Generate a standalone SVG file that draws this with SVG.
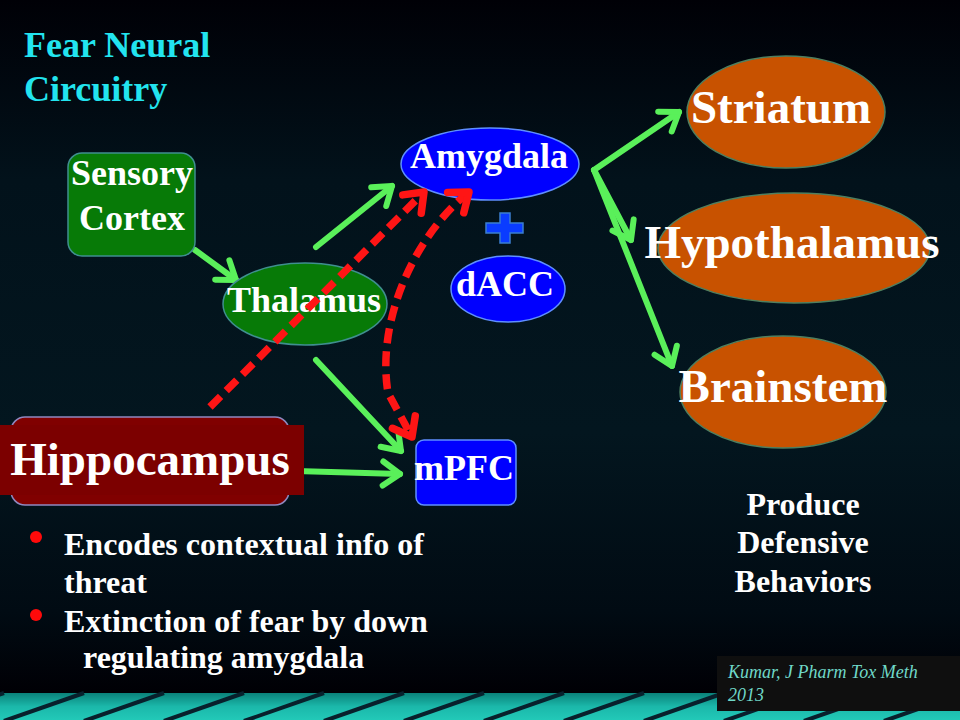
<svg xmlns="http://www.w3.org/2000/svg" width="960" height="720" viewBox="0 0 960 720">
<style>
.t{font-family:"Liberation Serif","Times New Roman",serif;font-weight:bold;fill:#ffffff}
.big{font-size:47px}
.mid{font-size:36px}
.sm{font-size:32px}
.green{fill:#077a07;stroke:#3f8f8f;stroke-width:1.5}
.blue{fill:#0000ff;stroke:#5f8fff;stroke-width:1.5}
.orange{fill:#c85200;stroke:#4f7f5f;stroke-width:1.5}
.g{fill:none;stroke:#5af05a;stroke-width:6;stroke-linecap:round;marker-end:url(#ag)}
.r{fill:none;stroke:#ff1515;stroke-width:7.5;stroke-dasharray:15 8;marker-end:url(#ar)}
</style>
<defs>
<linearGradient id="bg" x1="0" y1="0" x2="0" y2="1">
<stop offset="0" stop-color="#000006"/>
<stop offset="0.25" stop-color="#02121b"/>
<stop offset="0.6" stop-color="#03161f"/>
<stop offset="0.85" stop-color="#010b13"/>
<stop offset="0.96" stop-color="#000005"/>
</linearGradient>
<linearGradient id="band" x1="0" y1="0" x2="0" y2="1">
<stop offset="0" stop-color="#0a827a"/>
<stop offset="0.5" stop-color="#1bb8aa"/>
<stop offset="1" stop-color="#22c9b8"/>
</linearGradient>
<marker id="ag" markerUnits="userSpaceOnUse" markerWidth="44" markerHeight="44" viewBox="-22 -22 44 44" refX="0" refY="0" orient="auto">
<path d="M-17,-12 L0,0 L-17,12" fill="none" stroke="#5af05a" stroke-width="6" stroke-linecap="round" stroke-linejoin="round"/>
</marker>
<marker id="ar" markerUnits="userSpaceOnUse" markerWidth="48" markerHeight="48" viewBox="-24 -24 48 48" refX="0" refY="0" orient="auto-start-reverse">
<path d="M-17,-13 L0,0 L-17,13" fill="none" stroke="#ff1515" stroke-width="7.5" stroke-linecap="round" stroke-linejoin="round"/>
</marker>
</defs>

<rect x="0" y="0" width="960" height="720" fill="url(#bg)"/>
<g id="band-stripes">
<rect x="0" y="693" width="960" height="27" fill="url(#band)"/>
<g stroke="#08202c" stroke-width="4">
<line x1="-76" y1="721" x2="4" y2="693"/>
<line x1="4" y1="721" x2="84" y2="693"/>
<line x1="84" y1="721" x2="164" y2="693"/>
<line x1="164" y1="721" x2="244" y2="693"/>
<line x1="244" y1="721" x2="324" y2="693"/>
<line x1="324" y1="721" x2="404" y2="693"/>
<line x1="404" y1="721" x2="484" y2="693"/>
<line x1="484" y1="721" x2="564" y2="693"/>
<line x1="564" y1="721" x2="644" y2="693"/>
<line x1="644" y1="721" x2="724" y2="693"/>
<line x1="724" y1="721" x2="804" y2="693"/>
<line x1="804" y1="721" x2="884" y2="693"/>
<line x1="884" y1="721" x2="964" y2="693"/>
</g>
</g>

<g id="title">
<text class="t" x="24" y="57" font-size="36" style="fill:#22e4ef">Fear Neural</text>
<text class="t" x="24" y="101" font-size="36" style="fill:#22e4ef">Circuitry</text>
</g>

<g id="connectors">
<path class="g" d="M195,250 L236,280"/>
<path class="g" d="M316,247 L392,186"/>
<path class="g" d="M316,360 L401,451"/>
<path class="g" d="M296,471 L400,474"/>
<path class="g" d="M594,170 L679,112"/>
<path class="g" d="M594,170 L631,240"/>
<path class="g" d="M594,170 L672,366"/>
</g>

<g id="sensory-cortex">
<rect class="green" x="68" y="153" width="127" height="103" rx="14"/>
<text class="t mid" x="132" y="185" text-anchor="middle">Sensory</text>
<text class="t mid" x="132" y="230" text-anchor="middle">Cortex</text>
</g>

<g id="thalamus">
<ellipse class="green" cx="305" cy="304" rx="82" ry="41"/>
<text class="t mid" x="304" y="312" text-anchor="middle">Thalamus</text>
</g>

<g id="amygdala">
<ellipse class="blue" cx="490" cy="164" rx="89" ry="36"/>
<text class="t mid" x="489" y="168" text-anchor="middle">Amygdala</text>
</g>

<g id="plus">
<path d="M500,213 H510 V223 H523 V233 H510 V243 H500 V233 H486 V223 H500 Z" fill="#0a3cff" stroke="#3b7fd0" stroke-width="1.5"/>
</g>

<g id="dacc">
<ellipse class="blue" cx="508" cy="289" rx="57" ry="33"/>
<text class="t mid" x="505" y="296" text-anchor="middle">dACC</text>
</g>

<g id="mpfc">
<rect class="blue" x="416" y="440" width="100" height="65" rx="8"/>
<text class="t mid" x="464" y="480" text-anchor="middle">mPFC</text>
</g>

<g id="hippocampus">
<rect x="11" y="417" width="278" height="88" rx="14" fill="#800000" stroke="#9088c0" stroke-width="1.5"/>
<rect x="0" y="425" width="304" height="70" fill="#7c0000"/>
<text class="t big" x="150" y="475" text-anchor="middle">Hippocampus</text>
</g>

<g id="red-connectors">
<path class="r" d="M210,407 L424,192"/>
<path class="r" d="M469,192 C415,235 376,320 388,393 L412,437" marker-start="url(#ar)"/>
</g>

<g id="striatum">
<ellipse class="orange" cx="786" cy="112" rx="99" ry="56"/>
<text class="t big" x="781" y="123" text-anchor="middle">Striatum</text>
</g>

<g id="hypothalamus">
<ellipse class="orange" cx="794" cy="248" rx="136" ry="55"/>
<text class="t big" x="792" y="258" text-anchor="middle">Hypothalamus</text>
</g>

<g id="brainstem">
<ellipse class="orange" cx="783" cy="392" rx="103" ry="56"/>
<text class="t big" x="783" y="402" text-anchor="middle">Brainstem</text>
</g>

<g id="bullets">
<circle cx="36" cy="537" r="6" fill="#ff0a0a"/>
<circle cx="36" cy="615" r="6" fill="#ff0a0a"/>
<text class="t sm" x="64" y="555">Encodes contextual info of</text>
<text class="t sm" x="64" y="593">threat</text>
<text class="t sm" x="64" y="632">Extinction of fear by down</text>
<text class="t sm" x="83" y="668">regulating amygdala</text>
</g>

<g id="produce">
<text class="t sm" x="803" y="515" text-anchor="middle">Produce</text>
<text class="t sm" x="803" y="553" text-anchor="middle">Defensive</text>
<text class="t sm" x="803" y="592" text-anchor="middle">Behaviors</text>
</g>

<g id="citation">
<rect x="717" y="656" width="243" height="55" fill="#0f0f0f"/>
<text x="728" y="678" font-family="Liberation Serif, serif" font-style="italic" font-size="18" fill="#6fd8c8">Kumar, J Pharm Tox Meth</text>
<text x="728" y="701" font-family="Liberation Serif, serif" font-style="italic" font-size="18" fill="#6fd8c8">2013</text>
</g>
</svg>
